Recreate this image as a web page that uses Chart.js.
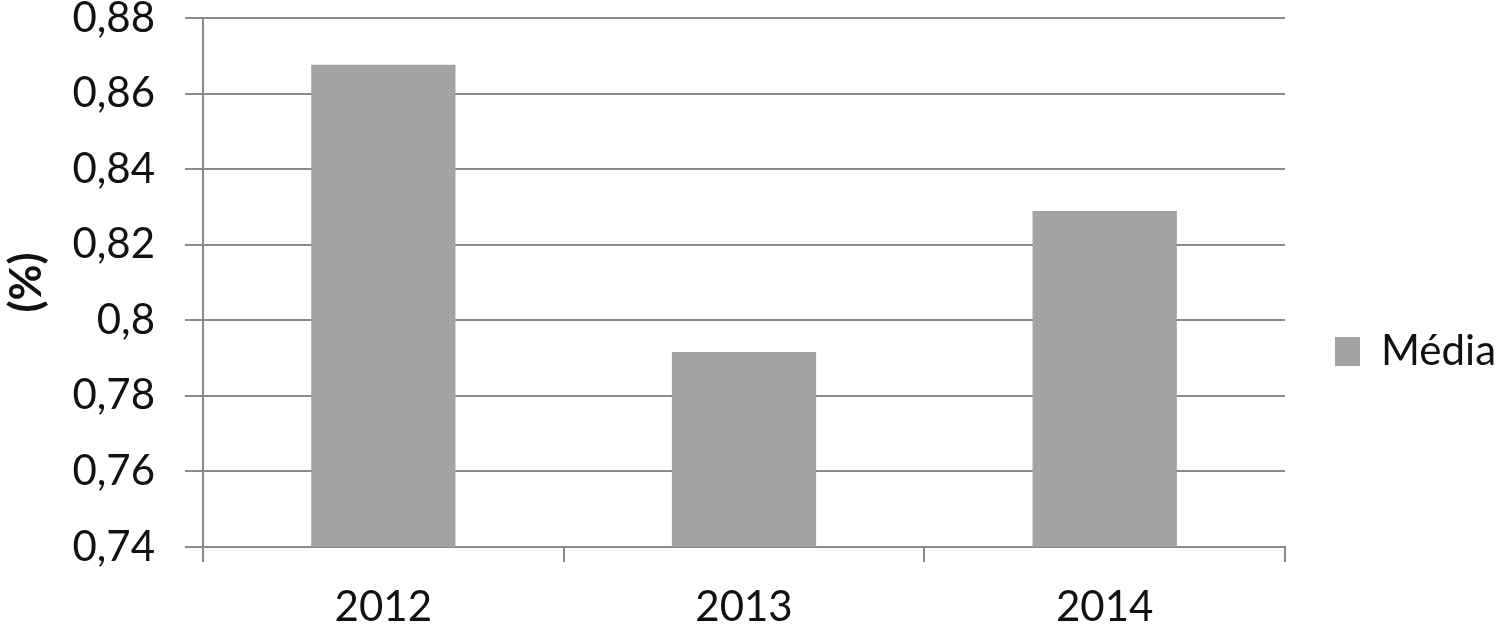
<!DOCTYPE html>
<html>
<head>
<meta charset="utf-8">
<script src="https://cdn.jsdelivr.net/npm/chart.js@4"></script>
<style>
  html, body { margin: 0; padding: 0; background: #fff; }
  #wrap { width: 1500px; height: 625px; }
</style>
</head>
<body>
<div id="wrap"><canvas id="chart" width="1500" height="625"></canvas></div>
<script>
const years = ['2012', '2013', '2014'];
const media = [0.8676, 0.7916, 0.8289];
const yMin = 0.74;
const yMax = 0.88;
const yStep = 0.02;

// dotted grey fill like the original bars
function dotPattern() {
  const c = document.createElement('canvas');
  c.width = 4; c.height = 4;
  const g = c.getContext('2d');
  g.fillStyle = '#a6a6a6';
  g.fillRect(0, 0, 4, 4);
  g.fillStyle = '#8e8e8e';
  g.fillRect(0, 0, 1, 1);
  g.fillRect(2, 2, 1, 1);
  return g.createPattern(c, 'repeat');
}

const gridGray = '#8a8a8a';
const font = { family: 'Lato, sans-serif', size: 42 };

// move the legend to where the original has it
const legendShift = {
  id: 'legendShift',
  afterLayout(chart) {
    const lg = chart.legend;
    lg.left += 25; lg.right += 25;
    lg.top += 30; lg.bottom += 30;
  }
};

const ctx = document.getElementById('chart').getContext('2d');
new Chart(ctx, {
  type: 'bar',
  data: {
    labels: years,
    datasets: [{
      label: 'Média',
      data: media,
      backgroundColor: dotPattern(),
      borderWidth: 0,
      categoryPercentage: 1,
      barPercentage: 0.4
    }]
  },
  options: {
    responsive: false,
    animation: false,
    devicePixelRatio: 1,
    layout: { padding: { top: 18, left: 0, right: 19, bottom: 0 } },
    plugins: {
      tooltip: { enabled: false },
      legend: {
        position: 'right',
        labels: {
          boxWidth: 25,
          boxHeight: 29,
          padding: 25,
          color: '#111',
          font: font
        }
      }
    },
    scales: {
      x: {
        grid: {
          display: true,
          drawOnChartArea: false,
          drawTicks: true,
          tickLength: 15,
          color: gridGray,
          lineWidth: 2
        },
        border: { display: true, color: gridGray, width: 2 },
        ticks: { color: '#111', font: font, padding: 20, maxRotation: 0 },
        afterFit(scale) {
          scale.height = 78;
          scale.paddingLeft = 0; scale.paddingRight = 0;
        }
      },
      y: {
        min: yMin,
        max: yMax,
        grid: {
          color: gridGray,
          lineWidth: 2,
          drawTicks: true,
          tickLength: 18
        },
        border: { display: true, color: gridGray, width: 2 },
        ticks: {
          stepSize: yStep,
          color: '#111',
          font: font,
          padding: 30,
          callback: v => String(Math.round(v * 100) / 100).replace('.', ',')
        },
        title: {
          display: true,
          text: '(%)',
          color: '#111',
          font: { family: 'Lato, sans-serif', size: 44, weight: 'bold' },
          padding: { top: 0, bottom: 0 }
        },
        afterFit(scale) {
          scale.width = 203;
          scale.paddingTop = 0; scale.paddingBottom = 0;
        }
      }
    }
  },
  plugins: [legendShift]
});
</script>
</body>
</html>
